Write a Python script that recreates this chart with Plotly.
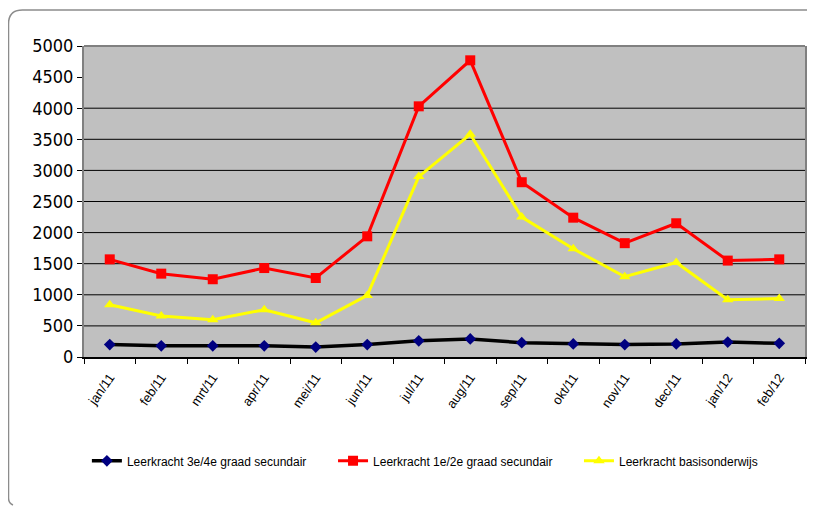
import plotly.graph_objects as go

months = ["jan/11", "feb/11", "mrt/11", "apr/11", "mei/11", "jun/11", "jul/11",
          "aug/11", "sep/11", "okt/11", "nov/11", "dec/11", "jan/12", "feb/12"]
graad34 = [200, 180, 180, 180, 160, 200, 260, 290, 230, 210, 200, 210, 240, 220]
graad12 = [1570, 1340, 1250, 1430, 1270, 1940, 4030, 4770, 2810, 2240, 1830, 2150, 1550, 1570]
basis = [840, 660, 600, 760, 550, 990, 2900, 3580, 2250, 1740, 1290, 1520, 920, 940]
y_ticks = [0, 500, 1000, 1500, 2000, 2500, 3000, 3500, 4000, 4500, 5000]
grid_vals = [500, 1000, 1500, 2000, 2500, 3000, 3500, 4000]

FONT = "Liberation Sans, Arial, sans-serif"

fig = go.Figure()
fig.add_trace(go.Scatter(x=months, y=graad34, name="Leerkracht 3e/4e graad secundair",
                         mode="lines+markers", line=dict(color="black", width=3.5),
                         marker=dict(symbol="diamond", color="#000080", size=9),
                         legend="legend"))
fig.add_trace(go.Scatter(x=months, y=graad12, name="Leerkracht 1e/2e graad secundair",
                         mode="lines+markers", line=dict(color="#FF0000", width=3),
                         marker=dict(symbol="square", color="#FF0000", size=10),
                         legend="legend2"))
fig.add_trace(go.Scatter(x=months, y=basis, name="Leerkracht basisonderwijs",
                         mode="lines+markers", line=dict(color="#FFFF00", width=3),
                         marker=dict(symbol="triangle-up", color="#FFFF00", size=10),
                         legend="legend3"))

shapes = [dict(type="line", xref="paper", yref="y", x0=0, x1=1, y0=g, y1=g,
               layer="below", line=dict(color="black", width=1)) for g in grid_vals]
shapes.append(dict(type="line", xref="paper", yref="paper", x0=0, x1=1, y0=1, y1=1,
                   line=dict(color="#808080", width=2)))
shapes.append(dict(type="path", xref="paper", yref="paper",
                   path=("M -0.0985,-0.4759 Q -0.1047,-0.47 -0.1047,-0.4534 "
                         "L -0.1047,1.0707 Q -0.1047,1.1158 -0.0853,1.1158 "
                         "L 1.0097,1.1158 L 1.0097,1.106"),
                   line=dict(color="#8c8c8c", width=1.5)))


def leg(xpos):
    return dict(orientation="h", x=xpos, y=-0.334, xanchor="left", yanchor="middle",
                font=dict(size=12, family=FONT), itemwidth=30,
                bgcolor="rgba(0,0,0,0)")


fig.update_layout(
    width=815, height=509,
    paper_bgcolor="white", plot_bgcolor="#C0C0C0",
    margin=dict(l=76, r=18, t=38, b=160, autoexpand=False),
    font=dict(family=FONT, color="black"),
    showlegend=True,
    legend=leg(0.004),
    legend2=leg(0.3454),
    legend3=leg(0.6865),
    xaxis=dict(type="category", tickangle=-55, tickfont=dict(size=13),
               showgrid=False, showline=True, linecolor="black", linewidth=1.5,
               mirror=False, ticks="outside", tickson="boundaries", ticklen=5,
               tickcolor="black", zeroline=False, range=[-0.5, 13.5],
               ticklabelstandoff=6),
    yaxis=dict(range=[0, 5000], tickvals=y_ticks,
               tickfont=dict(size=18, family="DejaVu Sans Condensed, Liberation Sans, sans-serif"),
               showgrid=False, showline=True, linecolor="#808080", linewidth=2,
               mirror=True, ticks="outside", ticklen=5, tickcolor="black",
               zeroline=False),
    shapes=shapes,
)
fig.write_html("out.html")
